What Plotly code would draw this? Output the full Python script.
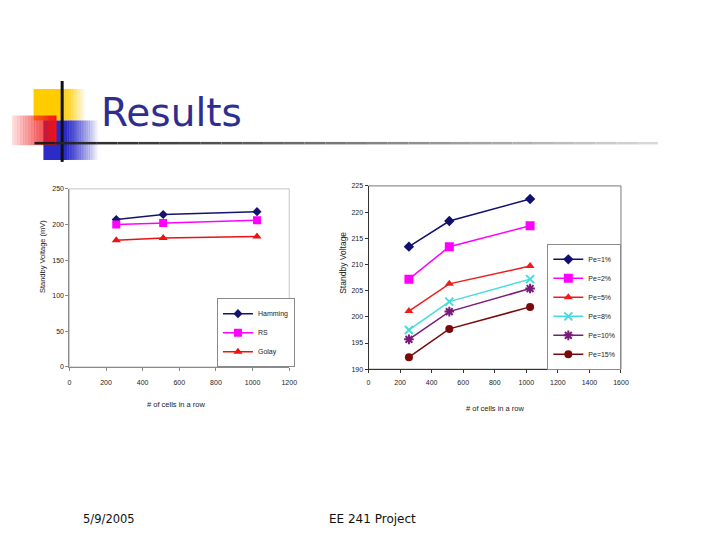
import plotly.graph_objects as go

W, H = 720, 540

# ---------------- data ----------------
cells = [256, 512, 1024]

codes = ["Hamming", "RS", "Golay"]
hamming = [207, 214, 218]
rs = [200, 202, 206]
golay = [178, 181, 183]

pe_labels = ["Pe=1%", "Pe=2%", "Pe=5%", "Pe=8%", "Pe=10%", "Pe=15%"]
pe1 = [213.4, 218.3, 222.5]
pe2 = [207.2, 213.4, 217.4]
pe5 = [201.1, 206.3, 209.7]
pe8 = [197.5, 202.9, 207.2]
pe10 = [195.7, 201.0, 205.4]
pe15 = [192.3, 197.7, 201.9]

left_xticks = [0, 200, 400, 600, 800, 1000, 1200]
left_yticks = [0, 50, 100, 150, 200, 250]
right_xticks = [0, 200, 400, 600, 800, 1000, 1200, 1400, 1600]
right_yticks = [190, 195, 200, 205, 210, 215, 220, 225]


def px(x):
    return x / W


def py(y):
    return 1 - y / H


fig = go.Figure()

# ---- left chart ----
left_series = [
    (codes[0], hamming, "#14146e", "diamond", 7),
    (codes[1], rs, "#ff00ff", "square", 8),
    (codes[2], golay, "#ee1111", "triangle-up", 8),
]
for name, vals, col, sym, sz in left_series:
    fig.add_trace(go.Scatter(
        x=cells, y=vals, name=name, mode="lines+markers",
        line=dict(color=col, width=1.5),
        marker=dict(symbol=sym, size=sz, color=col),
        xaxis="x", yaxis="y", legend="legend",
    ))

# ---- right chart ----
right_vals = [pe1, pe2, pe5, pe8, pe10, pe15]
right_style = [
    ("#10106e", "diamond", 8),
    ("#ff00ff", "square", 9),
    ("#ee1c1c", "triangle-up", 8),
    ("#44dddd", "x-thin-open", 8),
    ("#7a1a7a", "asterisk-open", 8),
    ("#7a0a0a", "circle", 8),
]
for name, vals, (col, sym, sz) in zip(pe_labels, right_vals, right_style):
    mk = dict(symbol=sym, size=sz, color=col)
    if sym.endswith("open"):
        mk["line"] = dict(color=col, width=2)
    fig.add_trace(go.Scatter(
        x=cells, y=vals, name=name, mode="lines+markers",
        line=dict(color=col, width=1.5),
        marker=mk,
        xaxis="x2", yaxis="y2", legend="legend2",
    ))

tickfont = dict(family="Liberation Sans, Arial", size=7, color="#222")

# plot areas (pixels)
L = dict(x0=68.3, x1=291.3, y0=187.3, y1=367.7)
R = dict(x0=371.7, x1=627.7, y0=184.3, y1=370.0)

fig.update_layout(
    width=W, height=H,
    margin=dict(l=0, r=0, t=0, b=0),
    paper_bgcolor="white", plot_bgcolor="white",
    xaxis=dict(domain=[px(L["x0"]), px(L["x1"])], range=[0, 1200],
               tickvals=left_xticks, showgrid=False, zeroline=False,
               showline=True, linecolor="#8a8a8a", linewidth=1,
               ticks="outside", ticklen=3, tickcolor="#8a8a8a",
               tickfont=tickfont, ticklabelstandoff=6, anchor="y"),
    yaxis=dict(domain=[py(L["y1"]), py(L["y0"])], range=[0, 250],
               tickvals=left_yticks, showgrid=False, zeroline=False,
               showline=True, linecolor="#8a8a8a", linewidth=1,
               ticks="outside", ticklen=3, tickcolor="#8a8a8a",
               tickfont=tickfont, anchor="x"),
    xaxis2=dict(domain=[px(R["x0"]), px(R["x1"])], range=[0, 1600],
                tickvals=right_xticks, showgrid=False, zeroline=False,
                showline=True, linecolor="#333", linewidth=1,
                ticks="outside", ticklen=3, tickcolor="#333",
                tickfont=tickfont, ticklabelstandoff=3, anchor="y2"),
    yaxis2=dict(domain=[py(R["y1"]), py(R["y0"])], range=[190, 225],
                tickvals=right_yticks, showgrid=False, zeroline=False,
                showline=True, linecolor="#333", linewidth=1,
                ticks="outside", ticklen=3, tickcolor="#333",
                tickfont=tickfont, anchor="x2"),
    legend=dict(x=px(218), y=py(298), xanchor="left", yanchor="top",
                bordercolor="#8a8a8a", borderwidth=1, bgcolor="white",
                font=dict(family="Liberation Sans, Arial", size=7, color="#222"),
                itemwidth=30, tracegroupgap=0),
    legend2=dict(x=px(553), y=py(243), xanchor="left", yanchor="top",
                 bordercolor="#8a8a8a", borderwidth=1, bgcolor="white",
                 font=dict(family="Liberation Sans, Arial", size=7, color="#222"),
                 itemwidth=30, tracegroupgap=0),
    showlegend=True,
)

shapes = []
# plot-area frames
shapes.append(dict(type="rect", xref="paper", yref="paper",
                   x0=px(L["x0"]), x1=px(L["x1"]), y0=py(L["y1"]), y1=py(L["y0"]),
                   line=dict(color="#c4c4c4", width=1), layer="below"))
shapes.append(dict(type="rect", xref="paper", yref="paper",
                   x0=px(R["x0"]), x1=px(R["x1"]), y0=py(R["y1"]), y1=py(R["y0"]),
                   line=dict(color="#777", width=1), layer="below"))

# ---- slide decoration (approximated gradients) ----
def grad_rect(x0, x1, y0, y1, rgb, a0, a1, n=14):
    out = []
    for i in range(n):
        xa = x0 + (x1 - x0) * i / n
        xb = x0 + (x1 - x0) * (i + 1) / n
        a = a0 + (a1 - a0) * (i + 0.5) / n
        out.append(dict(type="rect", xref="paper", yref="paper",
                        x0=px(xa), x1=px(xb + 0.3), y0=py(y1), y1=py(y0),
                        fillcolor=f"rgba({rgb},{a:.3f})", line=dict(width=0),
                        layer="above"))
    return out

# yellow square
shapes.append(dict(type="rect", xref="paper", yref="paper",
                   x0=px(32), x1=px(63), y0=py(118), y1=py(86),
                   fillcolor="#ffcc00", line=dict(width=0), layer="above"))
shapes += grad_rect(63, 85, 86, 118, "255,204,0", 1.0, 0.0, n=10)
# blue square
shapes.append(dict(type="rect", xref="paper", yref="paper",
                   x0=px(42), x1=px(66), y0=py(158), y1=py(118),
                   fillcolor="#2b2bc8", line=dict(width=0), layer="above"))
shapes += grad_rect(66, 98, 118, 158, "43,43,200", 1.0, 0.0, n=14)
# red rectangle (fades in from the left)
shapes += grad_rect(10, 55, 113, 143, "240,20,20", 0.1, 1.0, n=16)
# vertical black line
shapes.append(dict(type="line", xref="paper", yref="paper",
                   x0=px(61), x1=px(61), y0=py(78), y1=py(160),
                   line=dict(color="#111", width=3), layer="above"))
# horizontal fading rule
nseg = 30
for i in range(nseg):
    xa = 33 + (665 - 33) * i / nseg
    xb = 33 + (665 - 33) * (i + 1) / nseg
    g = int(30 + (215 - 30) * i / (nseg - 1))
    shapes.append(dict(type="line", xref="paper", yref="paper",
                       x0=px(xa), x1=px(xb), y0=py(141), y1=py(141),
                       line=dict(color=f"rgb({g},{g},{g})", width=2.5),
                       layer="above"))

fig.update_layout(shapes=shapes)

ann = []
ann.append(dict(text="Results", x=px(98), y=py(110), xref="paper", yref="paper",
                xanchor="left", yanchor="middle", showarrow=False,
                font=dict(family="DejaVu Sans", size=39, color="#2e2e8e")))
ann.append(dict(text="5/9/2005", x=px(108), y=py(522), xref="paper", yref="paper",
                xanchor="center", yanchor="middle", showarrow=False,
                font=dict(family="DejaVu Sans", size=11.5, color="#111")))
ann.append(dict(text="EE 241 Project", x=px(376), y=py(522), xref="paper", yref="paper",
                xanchor="center", yanchor="middle", showarrow=False,
                font=dict(family="DejaVu Sans", size=12, color="#111")))
# axis titles
ann.append(dict(text="Standby Voltage (mV)", x=px(41), y=py(256), xref="paper", yref="paper",
                xanchor="center", yanchor="middle", showarrow=False, textangle=-90,
                font=dict(family="Liberation Sans, Arial", size=7.5, color="#222")))
ann.append(dict(text="# of cells in a row", x=px(177), y=py(406), xref="paper", yref="paper",
                xanchor="center", yanchor="middle", showarrow=False,
                font=dict(family="Liberation Sans, Arial", size=7.5, color="#222")))
ann.append(dict(text="Standby Voltage", x=px(345), y=py(262), xref="paper", yref="paper",
                xanchor="center", yanchor="middle", showarrow=False, textangle=-90,
                font=dict(family="Liberation Sans, Arial", size=8.5, color="#222")))
ann.append(dict(text="# of cells in a row", x=px(500), y=py(410), xref="paper", yref="paper",
                xanchor="center", yanchor="middle", showarrow=False,
                font=dict(family="Liberation Sans, Arial", size=7.5, color="#222")))
fig.update_layout(annotations=ann)

fig.write_html("out.html", config={"displayModeBar": False},
               post_script="document.body.style.margin='0';")
